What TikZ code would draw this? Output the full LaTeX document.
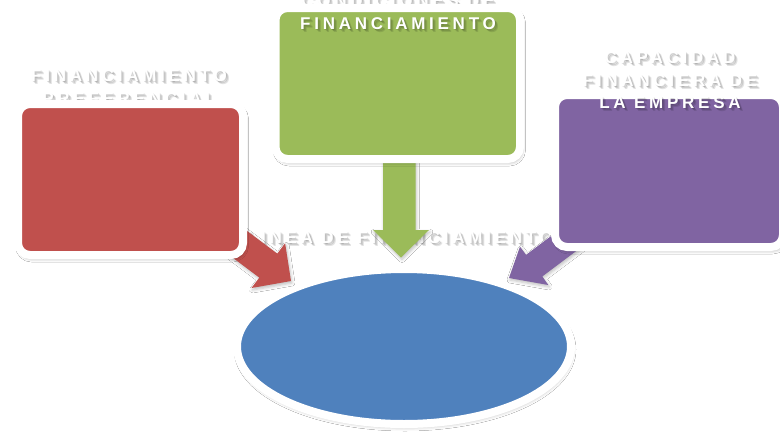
\documentclass[tikz,border=0pt]{standalone}
\usepackage{fontspec}
\newfontfamily\lblfont[LetterSpace=22]{Liberation Sans}
\usetikzlibrary{shapes.geometric,shadows.blur}
\definecolor{cRed}{HTML}{C0504D}
\definecolor{cGreen}{HTML}{9BBB59}
\definecolor{cPurple}{HTML}{8064A2}
\definecolor{cBlue}{HTML}{4F81BD}
\newcommand\lbltext[3]{%
  \node[lblsh, xshift=0.8pt, yshift=-1.2pt] (#1s1) at (#2) {#3};
  \node[lblsh, xshift=2pt, yshift=-2.4pt] (#1s2) at (#2) {#3};
  \node[lblsh, xshift=3pt, yshift=-3.4pt] (#1s3) at (#2) {#3};
  \node[lbl] (#1) at (#2) {#3};}
\begin{document}
\begin{tikzpicture}[x=1pt,y=-1pt,
  boxshape/.style={rectangle, rounded corners=12pt, draw=white, line width=8pt, inner sep=0pt,
    blur shadow={shadow xshift=1.5pt, shadow yshift=-3pt, shadow blur radius=4pt, shadow opacity=40}},
  ellshape/.style={ellipse, draw=white, line width=8pt, inner sep=0pt,
    blur shadow={shadow xshift=1pt, shadow yshift=-3pt, shadow blur radius=4pt, shadow opacity=30}},
  blockarrow/.style={draw=none, blur shadow={shadow xshift=1pt, shadow yshift=-2pt, shadow blur radius=3pt, shadow opacity=25}},
  lbl/.style={font=\lblfont\bfseries\fontsize{17}{20}\selectfont, text=white, inner sep=0pt, anchor=base},
  lblsh/.style={lbl, text=black, opacity=0.11}
]
\useasboundingbox[fill=white] (0,0) rectangle (780,432);

% central ellipse
\node[ellshape, fill=cBlue, minimum width=334pt, minimum height=155pt] (ell) at (404,346.5) {};

% texts lying behind other shapes
\lbltext{linea}{400,243}{LINEA DE FINANCIAMIENTO}
\lbltext{redA}{129,81.5}{FINANCIAMIENTO}
\lbltext{redB}{129,104}{PREFERENCIAL}
\lbltext{grnA}{398,6}{CONDICIONES DE}

% block arrows
\fill[cRed, blockarrow] (218.1,209.2) -- (277.3,253.6) -- (285.1,243.2) -- (291,281)
  -- (251.5,288) -- (259.3,277.6) -- (200.1,233.2) -- cycle;
\fill[cGreen, blockarrow] (383,150) -- (383,230) -- (373,230) -- (401,257.5)
  -- (429,230) -- (415.5,230) -- (415.5,150) -- cycle;
\fill[cPurple, blockarrow] (575.7,217.6) -- (526.1,254.8) -- (520,246.7) -- (509,278)
  -- (548.3,285) -- (542.3,276.4) -- (591.9,239.2) -- cycle;

% boxes
\node[boxshape, fill=cRed, minimum width=225pt, minimum height=151pt] (red) at (130.5,179.5) {};
\node[boxshape, fill=cPurple, minimum width=228pt, minimum height=152pt] (purple) at (669,171) {};
\node[boxshape, fill=cGreen, minimum width=244.5pt, minimum height=151pt] (green) at (397.75,83.5) {};

% texts on top
\lbltext{grnB}{398,29.3}{FINANCIAMIENTO}
\lbltext{purA}{670,63.5}{CAPACIDAD}
\lbltext{purB}{670,86}{FINANCIERA DE}
\lbltext{purC}{670,108.5}{LA EMPRESA}
\end{tikzpicture}
\end{document}
